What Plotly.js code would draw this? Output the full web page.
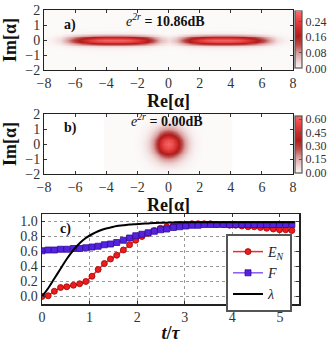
<!DOCTYPE html>
<html>
<head>
<meta charset="utf-8">
<script src="https://cdn.plot.ly/plotly-3.0.1.min.js"></script>
<style>
  html, body { margin: 0; padding: 0; background: #fff; }
  #graph { width: 333px; height: 343px; }
</style>
</head>
<body>
<div id="graph"></div>
<script>
// panel a) -- two squeezed lobes, read as x and y profiles
const aX = [-8, -7.5, -7, -6.5, -6, -5.5, -5, -4.5, -4, -3.5, -3, -2.5, -2, -1.5, -1, -0.5, 0,
            0.5, 1, 1.5, 2, 2.5, 3, 3.5, 4, 4.5, 5, 5.5, 6, 6.5, 7, 7.5, 8];
const aXProf = [0.01, 0.03, 0.1, 0.28, 0.5, 0.7, 0.85, 0.95, 1, 1, 1, 0.95, 0.85, 0.7, 0.45, 0.2, 0.1,
                0.2, 0.45, 0.7, 0.85, 0.95, 1, 1, 1, 0.95, 0.85, 0.7, 0.5, 0.28, 0.1, 0.03, 0.01];
const aY = [-2, -1.5, -1, -0.7, -0.5, -0.4, -0.3, -0.2, -0.1, 0, 0.1, 0.2, 0.3, 0.4, 0.5, 0.7, 1, 1.5, 2];
const aYProf = [0, 0, 0.001, 0.005, 0.04, 0.14, 0.36, 0.66, 0.9, 1, 0.9, 0.66, 0.36, 0.14, 0.04, 0.005, 0.001, 0, 0];
const aPeak = 0.28;

// panel b) -- vacuum state
const bX = [-4, -3.75, -3.5, -3.25, -3, -2.75, -2.5, -2.25, -2, -1.75, -1.5, -1.25, -1, -0.75, -0.5, -0.25, 0,
            0.25, 0.5, 0.75, 1, 1.25, 1.5, 1.75, 2, 2.25, 2.5, 2.75, 3, 3.25, 3.5, 3.75, 4];
const bXProf = [0, 0, 0, 0, 0, 0, 0, 0, 0.008, 0.025, 0.067, 0.153, 0.301, 0.509, 0.741, 0.928, 1,
                0.928, 0.741, 0.509, 0.301, 0.153, 0.067, 0.025, 0.008, 0, 0, 0, 0, 0, 0, 0, 0];
const bY = [-2, -1.75, -1.5, -1.25, -1, -0.75, -0.5, -0.25, 0, 0.25, 0.5, 0.75, 1, 1.25, 1.5, 1.75, 2];
const bYProf = [0.008, 0.025, 0.067, 0.153, 0.301, 0.509, 0.741, 0.928, 1, 0.928, 0.741, 0.509, 0.301, 0.153, 0.067, 0.025, 0.008];
const bPeak = 0.63;

// panel c) -- time curves
const tVals = [0, 0.13, 0.26, 0.39, 0.52, 0.66, 0.79, 0.92, 1.05, 1.18, 1.31, 1.44, 1.57, 1.71, 1.84, 1.97,
               2.10, 2.23, 2.36, 2.49, 2.62, 2.76, 2.89, 3.02, 3.15, 3.28, 3.41, 3.54, 3.67, 3.81, 3.94,
               4.07, 4.20, 4.33, 4.46, 4.59, 4.72, 4.86, 4.99, 5.12, 5.25];
const eN = [0.00, 0.01, 0.07, 0.12, 0.13, 0.15, 0.17, 0.20, 0.27, 0.36, 0.44, 0.50, 0.55, 0.62, 0.69, 0.75,
            0.80, 0.84, 0.88, 0.91, 0.93, 0.95, 0.96, 0.96, 0.97, 0.97, 0.97, 0.97, 0.96, 0.96, 0.95,
            0.95, 0.94, 0.93, 0.93, 0.92, 0.91, 0.90, 0.89, 0.89, 0.88];
const fid = [0.61, 0.62, 0.62, 0.63, 0.63, 0.64, 0.64, 0.65, 0.66, 0.67, 0.69, 0.70, 0.72, 0.75, 0.78, 0.81,
             0.83, 0.85, 0.87, 0.89, 0.90, 0.92, 0.93, 0.94, 0.95, 0.95, 0.96, 0.96, 0.96, 0.96, 0.96,
             0.96, 0.96, 0.96, 0.96, 0.96, 0.96, 0.96, 0.96, 0.96, 0.96];
const tLam = [0, 0.13, 0.26, 0.39, 0.52, 0.66, 0.79, 0.92, 1.05, 1.18, 1.31, 1.44, 1.57, 1.71, 1.84, 1.97,
              2.10, 2.23, 2.36, 2.49, 2.62, 2.76, 2.89, 3.02, 3.15, 3.28, 3.41, 3.54, 3.67, 3.81, 3.94,
              4.07, 4.20, 4.33, 4.46, 4.59, 4.72, 4.86, 4.99, 5.12, 5.25, 5.31];
const lam = [0.00, 0.11, 0.24, 0.37, 0.50, 0.62, 0.71, 0.78, 0.83, 0.87, 0.90, 0.92, 0.94, 0.95, 0.96, 0.965,
             0.97, 0.975, 0.98, 0.983, 0.985, 0.987, 0.99, 0.99, 0.99, 0.99, 0.99, 0.99, 0.99, 0.99, 0.99,
             0.99, 0.99, 0.99, 0.99, 0.99, 0.99, 0.99, 0.99, 0.99, 0.99, 0.99];

// outer product of the two profiles
function grid(px, py, peak) {
    return py.map(vy => px.map(vx => vx * vy * peak));
}

const W = 333, H = 343;
const serif = 'Liberation Serif, DejaVu Serif, serif';
const redScale = [
    [0, '#fcf9f9'], [0.12, '#efd6d6'], [0.28, '#d99c9c'], [0.42, '#bd4c4c'],
    [0.57, '#ad1c1c'], [0.72, '#d42c2c'], [0.86, '#e84646'], [1, '#f46a6a']
];

function px2x(l, r) { return [l / W, r / W]; }
function px2y(t, b) { return [1 - b / H, 1 - t / H]; }

function cbar(yc, vals) {
    return {
        x: 295 / W, xanchor: 'left', xpad: 0,
        y: 1 - yc / H, yanchor: 'middle', ypad: 0,
        len: 57, lenmode: 'pixels', thickness: 7,
        outlinewidth: 1.2, outlinecolor: '#555',
        tickvals: vals, tickformat: '.2f',
        ticks: 'inside', ticklen: 3, tickcolor: '#555',
        tickfont: { family: serif, size: 12, color: '#333' }
    };
}

const traces = [
    {
        type: 'heatmap', x: aX, y: aY, z: grid(aXProf, aYProf, aPeak),
        xaxis: 'x', yaxis: 'y', zsmooth: 'best', showlegend: false, name: '',
        zmin: 0, zmax: 0.29, colorscale: redScale,
        colorbar: cbar(40, [0, 0.08, 0.16, 0.24]), hoverinfo: 'skip'
    },
    {
        type: 'heatmap', x: bX, y: bY, z: grid(bXProf, bYProf, bPeak),
        xaxis: 'x2', yaxis: 'y2', zsmooth: 'best', showlegend: false, name: '',
        zmin: 0, zmax: 0.64, colorscale: redScale,
        colorbar: cbar(144, [0, 0.15, 0.30, 0.45, 0.60]), hoverinfo: 'skip'
    },
    {
        type: 'scatter', mode: 'lines+markers', x: tVals, y: eN,
        xaxis: 'x3', yaxis: 'y3', name: '<i>E</i><sub><i>N</i></sub>',
        line: { color: '#ee2a2a', width: 1.5 },
        marker: { symbol: 'circle', size: 6, color: '#ee1c1c', line: { color: '#a00000', width: 0.8 } }
    },
    {
        type: 'scatter', mode: 'lines+markers', x: tVals, y: fid,
        xaxis: 'x3', yaxis: 'y3', name: '<i>F</i>',
        line: { color: '#8a5cf5', width: 1.5 },
        marker: { symbol: 'square', size: 6, color: '#5522dd', line: { color: '#2e0c99', width: 0.8 } }
    },
    {
        type: 'scatter', mode: 'lines', x: tLam, y: lam,
        xaxis: 'x3', yaxis: 'y3', name: '<i>λ</i>',
        line: { color: '#000', width: 2, shape: 'spline' }
    }
];

const tickFont = { family: serif, size: 14, color: '#333' };
const titleFont = { family: serif, size: 18, color: '#111' };
const heatX = {
    range: [-8, 8], tickvals: [-8, -6, -4, -2, 0, 2, 4, 6, 8],
    ticks: 'inside', ticklen: 3, tickcolor: '#333', mirror: 'ticks',
    showline: true, linecolor: '#222', linewidth: 1, showgrid: false, zeroline: false,
    tickfont: tickFont,
    title: { text: '<b>Re[α]</b>', font: titleFont, standoff: 3 }
};
const heatY = {
    range: [-2, 2], tickvals: [-2, -1, 0, 1, 2],
    ticks: 'inside', ticklen: 3, tickcolor: '#333', mirror: 'ticks',
    showline: true, linecolor: '#222', linewidth: 1, showgrid: false, zeroline: false,
    tickfont: tickFont,
    title: { text: '<b>Im[α]</b>', font: titleFont, standoff: 3 }
};

const layout = {
    width: W, height: H,
    margin: { l: 0, r: 0, t: 0, b: 0 },
    paper_bgcolor: '#fff', plot_bgcolor: '#fff',
    showlegend: true,
    xaxis: Object.assign({}, heatX, { domain: px2x(44, 293), anchor: 'y' }),
    yaxis: Object.assign({}, heatY, { domain: px2y(10, 70), anchor: 'x' }),
    xaxis2: Object.assign({}, heatX, { domain: px2x(44, 293), anchor: 'y2' }),
    yaxis2: Object.assign({}, heatY, { domain: px2y(114, 174), anchor: 'x2' }),
    xaxis3: {
        domain: px2x(42, 299), anchor: 'y3', range: [0, 5.4], tickvals: [0, 1, 2, 3, 4, 5],
        ticks: 'inside', ticklen: 3, tickcolor: '#333', mirror: 'ticks',
        showline: true, linecolor: '#222', linewidth: 1.5, zeroline: false,
        showgrid: true, gridcolor: '#999', griddash: 'dot', gridwidth: 1,
        tickfont: tickFont,
        title: { text: '<b><i>t</i>/<i>τ</i></b>', font: titleFont, standoff: 3 }
    },
    yaxis3: {
        domain: px2y(214, 304), anchor: 'x3', range: [-0.1, 1.1],
        tickvals: [0, 0.2, 0.4, 0.6, 0.8, 1.0], tickformat: '.1f',
        ticks: 'inside', ticklen: 3, tickcolor: '#333', mirror: 'ticks',
        showline: true, linecolor: '#222', linewidth: 1.5, zeroline: false,
        showgrid: true, gridcolor: '#999', griddash: 'dot', gridwidth: 1,
        tickfont: tickFont
    },
    legend: {
        x: 292 / W, xanchor: 'right', y: 1 - 234 / H, yanchor: 'top',
        bgcolor: '#fff', bordercolor: '#555', borderwidth: 2,
        font: { family: serif, size: 14, color: '#222' },
        itemwidth: 30, tracegroupgap: 0
    },
    annotations: [
        { xref: 'x', yref: 'y', x: -6.3, y: 1.0, text: '<b>a)</b>', showarrow: false,
          font: { family: serif, size: 14, color: '#111' } },
        { xref: 'x', yref: 'y', x: -0.2, y: 1.33, showarrow: false,
          text: '<i>e</i><sup><i>2r</i></sup> <b>= 10.86dB</b>',
          font: { family: serif, size: 14, color: '#111' } },
        { xref: 'x2', yref: 'y2', x: -6.3, y: 1.07, text: '<b>b)</b>', showarrow: false,
          font: { family: serif, size: 14, color: '#111' } },
        { xref: 'x2', yref: 'y2', x: -0.1, y: 1.6, showarrow: false,
          text: '<i>e</i><sup><i>2r</i></sup> <b>= 0.00dB</b>',
          font: { family: serif, size: 14, color: '#111' } },
        { xref: 'x3', yref: 'y3', x: 0.5, y: 0.9, text: '<b>c)</b>', showarrow: false,
          font: { family: serif, size: 14, color: '#111' } }
    ]
};

Plotly.newPlot('graph', traces, layout, { staticPlot: true, displayModeBar: false });
</script>
</body>
</html>
